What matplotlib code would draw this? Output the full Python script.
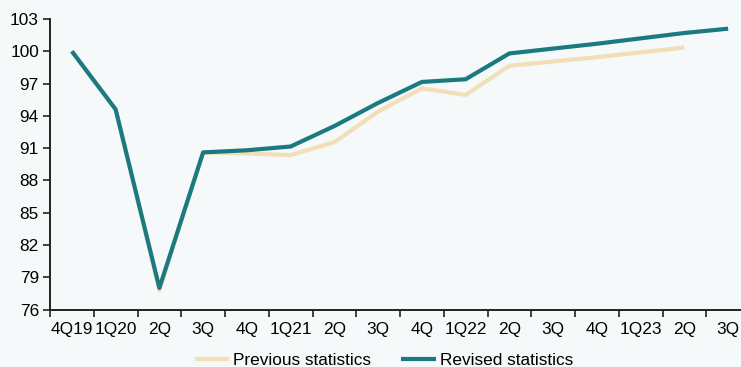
import matplotlib.pyplot as plt
import numpy as np

plt.rcParams['font.family'] = ['Liberation Sans', 'DejaVu Sans']

quarters = ['4Q19', '1Q20', '2Q', '3Q', '4Q', '1Q21', '2Q', '3Q', '4Q',
            '1Q22', '2Q', '3Q', '4Q', '1Q23', '2Q', '3Q']
previous = [100.0, 94.6, 77.8, 90.6, 90.5, 90.35, 91.55, 94.4, 96.55,
            95.95, 98.65, 99.05, 99.45, 99.9, 100.35]
revised = [100.0, 94.6, 78.0, 90.6, 90.8, 91.15, 93.05, 95.2, 97.15,
           97.4, 99.8, 100.25, 100.7, 101.2, 101.7, 102.1]

bg = '#f5f9fa'
fig = plt.figure(figsize=(7.41, 3.67), dpi=100, facecolor=bg)
# right edge of the axes runs past the figure edge on purpose
ax = fig.add_axes([50 / 741, 57.5 / 367, 700 / 741, 290.5 / 367], facecolor=bg)

ax.plot(np.arange(len(previous)), previous, color='#f2dfb8', lw=3,
        solid_capstyle='butt', label='Previous statistics')
ax.plot(np.arange(len(revised)), revised, color='#1b7a81', lw=3,
        solid_capstyle='butt', label='Revised statistics')

ax.set_xlim(-0.5, len(quarters) - 0.5)
ax.set_ylim(76, 103)
ax.set_yticks(np.arange(76, 104, 3))

# categories labelled at the centre, tick marks on the boundaries
ax.set_xticks(np.arange(len(quarters)))
ax.set_xticklabels(quarters)
ax.set_xticks(np.arange(len(quarters) + 1) - 0.5, minor=True)
ax.tick_params(axis='x', which='major', length=0, pad=9, labelsize=12.4)
ax.tick_params(axis='x', which='minor', length=5, width=1.2, color='#222222')
ax.tick_params(axis='y', length=5, width=1.2, color='#222222', labelsize=12.4, pad=3)

for s in ['top', 'right']:
    ax.spines[s].set_visible(False)
for s in ['left', 'bottom']:
    ax.spines[s].set_linewidth(1.4)
    ax.spines[s].set_color('#222222')

fig.legend(loc='center', bbox_to_anchor=(384 / 741, 7 / 367), ncol=2,
           frameon=False, fontsize=12.4, handlelength=2.0, handletextpad=0.25,
           columnspacing=1.75)

fig.savefig('out.png', dpi=100, facecolor=bg)
